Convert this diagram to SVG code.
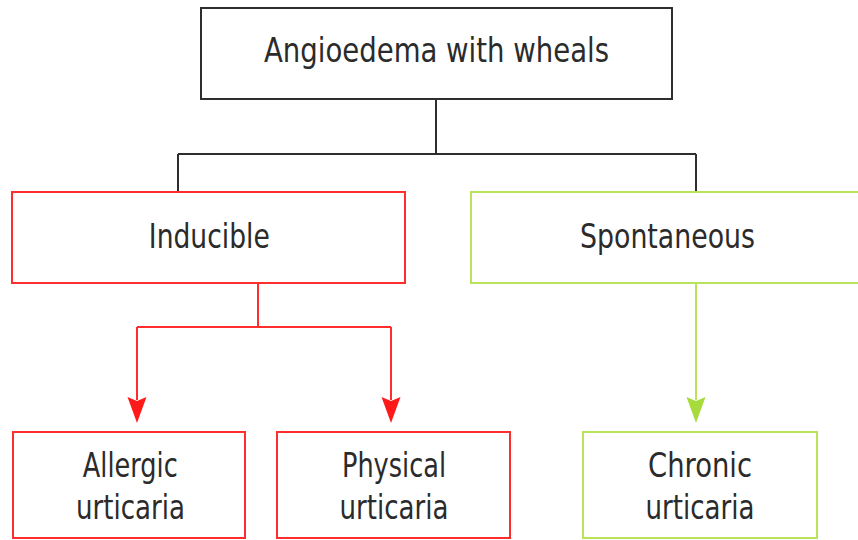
<svg xmlns="http://www.w3.org/2000/svg" width="858" height="540" viewBox="0 0 858 540">
<style>
.box{fill:#ffffff;stroke-width:2}
.dark{stroke:#2e2e2e}
.red{stroke:#ff2d2d}
.green{stroke:#b9e35a}
.lbl{font-family:"Liberation Sans Narrow","DejaVu Sans Condensed","Liberation Sans",Arial,sans-serif;font-size:34px;fill:#2b2b2b;text-anchor:middle}
.ln{fill:none;stroke-width:2}
.headRed{fill:#ff1a1a}
.headGreen{fill:#a8dc3c}
</style>
<rect width="858" height="540" fill="#ffffff"/>
<g id="connectors">
<path class="ln dark" d="M436,100 V154 M178,154 H696 M178,154 V192 M696,154 V192"/>
<path class="ln red" d="M258,284 V327 M137,327 H391 M137,327 V400 M391,327 V400"/>
<path class="ln green" d="M696,284 V400"/>
<path class="headRed" d="M127.5,397 L137,423 L146.5,397 L137,401 Z"/>
<path class="headRed" d="M381.5,397 L391,423 L400.5,397 L391,401 Z"/>
<path class="headGreen" d="M686.5,397 L696,423 L705.5,397 L696,401 Z"/>
</g>
<g id="node-angioedema">
<rect class="box dark" x="201" y="8" width="471" height="91"/>
<text class="lbl" x="436.5" y="62" textLength="345" lengthAdjust="spacingAndGlyphs">Angioedema with wheals</text>
</g>
<g id="node-inducible">
<rect class="box red" x="12" y="192" width="393" height="91"/>
<text class="lbl" x="209.3" y="248" textLength="121" lengthAdjust="spacingAndGlyphs">Inducible</text>
</g>
<g id="node-spontaneous">
<rect class="box green" x="471" y="192" width="400" height="91"/>
<text class="lbl" x="667.5" y="248" textLength="175" lengthAdjust="spacingAndGlyphs">Spontaneous</text>
</g>
<g id="node-allergic">
<rect class="box red" x="13" y="432" width="232" height="106"/>
<text class="lbl" x="130.3" y="477" textLength="95" lengthAdjust="spacingAndGlyphs">Allergic</text>
<text class="lbl" x="130.5" y="519" textLength="109" lengthAdjust="spacingAndGlyphs">urticaria</text>
</g>
<g id="node-physical">
<rect class="box red" x="277" y="432" width="233" height="106"/>
<text class="lbl" x="394" y="477" textLength="104" lengthAdjust="spacingAndGlyphs">Physical</text>
<text class="lbl" x="394" y="519" textLength="109" lengthAdjust="spacingAndGlyphs">urticaria</text>
</g>
<g id="node-chronic">
<rect class="box green" x="583" y="432" width="234" height="106"/>
<text class="lbl" x="700" y="477" textLength="104" lengthAdjust="spacingAndGlyphs">Chronic</text>
<text class="lbl" x="700" y="519" textLength="109" lengthAdjust="spacingAndGlyphs">urticaria</text>
</g>
</svg>
